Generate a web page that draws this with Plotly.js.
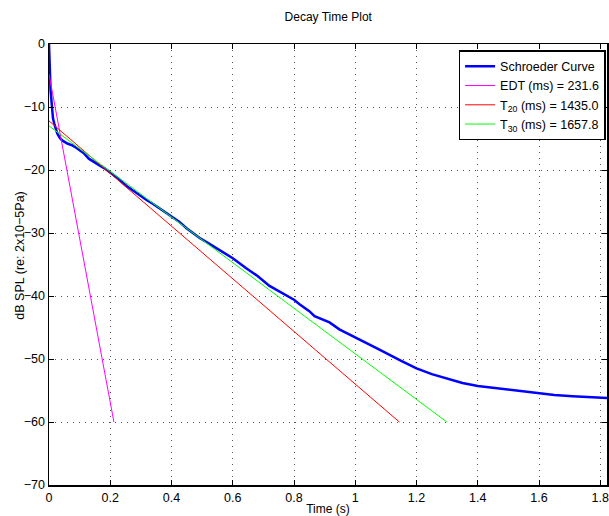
<!DOCTYPE html>
<html>
<head>
<meta charset="utf-8">
<script src="https://cdn.plot.ly/plotly-3.0.1.min.js"></script>
<style>html,body{margin:0;padding:0;background:#fff;}#chart{width:609px;height:516px;}</style>
</head>
<body>
<div id="chart"></div>
<script>
// Schroeder curve (s, dB)
const schroederX = [0, 0.001, 0.002, 0.003, 0.005, 0.008, 0.01, 0.013, 0.017, 0.022, 0.027, 0.035, 0.043, 0.06, 0.076, 0.09, 0.103, 0.115, 0.13, 0.145, 0.166, 0.18, 0.2, 0.225, 0.252, 0.275, 0.296, 0.32, 0.34, 0.37, 0.4, 0.425, 0.448, 0.47, 0.492, 0.52, 0.546, 0.575, 0.6, 0.644, 0.68, 0.72, 0.764, 0.8, 0.818, 0.85, 0.867, 0.916, 0.948, 1.003, 1.045, 1.079, 1.15, 1.2, 1.25, 1.31, 1.35, 1.4, 1.45, 1.503, 1.55, 1.6, 1.65, 1.71, 1.77, 1.822];
const schroederY = [0, -2, -4.3, -5, -7.2, -9, -10.5, -11.8, -12.6, -13.5, -14.2, -14.9, -15.3, -15.8, -16.1, -16.5, -16.9, -17.4, -18.2, -18.7, -19.3, -19.7, -20.4, -21.3, -22.5, -23.3, -24.1, -24.8, -25.4, -26.4, -27.3, -28.2, -29.2, -30.0, -30.8, -31.6, -32.4, -33.2, -34.0, -35.6, -36.8, -38.4, -39.6, -40.6, -41.3, -42.4, -43.2, -44.2, -45.3, -46.6, -47.6, -48.5, -50.3, -51.5, -52.4, -53.3, -53.8, -54.3, -54.6, -54.9, -55.2, -55.5, -55.7, -55.9, -56.1, -56.2];
// Regression lines
const edtX = [0, 0.212];
const edtY = [-4.8, -60];
const t20X = [0, 1.144];
const t20Y = [-12.2, -60];
const t30X = [0, 1.299];
const t30Y = [-13.0, -60];
const seriesNames = ["Schroeder Curve", "EDT (ms) = 231.6", "T<sub>20</sub> (ms) = 1435.0", "T<sub>30</sub> (ms) = 1657.8"];
const yTitle = "dB SPL (re: 2x10\u22125Pa)";

const font = "Liberation Sans, Arial, Helvetica, sans-serif";
const traces = [
  {x: schroederX, y: schroederY, mode: "lines", name: seriesNames[0], line: {color: "#0000ff", width: 2.5}},
  {x: edtX, y: edtY, mode: "lines", name: seriesNames[1], line: {color: "#ff00ff", width: 1}},
  {x: t20X, y: t20Y, mode: "lines", name: seriesNames[2], line: {color: "#ff0000", width: 1}},
  {x: t30X, y: t30Y, mode: "lines", name: seriesNames[3], line: {color: "#00ff00", width: 1}}
];

const axisCommon = {
  showline: true, linecolor: "#000", linewidth: 1.5, mirror: "ticks",
  ticks: "inside", ticklen: 5, tickcolor: "#000", tickwidth: 1,
  showgrid: true, gridcolor: "#555", griddash: "1px,5px", gridwidth: 1,
  zeroline: false, tickfont: {family: font, size: 12.5, color: "#000"}
};

const layout = {
  width: 609, height: 516,
  margin: {l: 49, r: 2, t: 44, b: 31},
  paper_bgcolor: "#fff", plot_bgcolor: "#fff",
  font: {family: font, color: "#000"},
  title: {text: "Decay Time Plot", font: {family: font, size: 12, color: "#000"}, x: 0.539, xanchor: "center", y: 0.967, yanchor: "middle"},
  xaxis: Object.assign({}, axisCommon, {range: [0, 1.822], dtick: 0.2, tick0: 0, ticklabeloverflow: "allow",
    title: {text: "Time (s)", font: {family: font, size: 12}, standoff: 2}}),
  yaxis: Object.assign({}, axisCommon, {range: [-70, 0], dtick: 10, tick0: 0}),
  annotations: [{text: yTitle, xref: "paper", yref: "paper", x: -0.052, y: 0.52, xanchor: "center", yanchor: "middle",
    textangle: -90, showarrow: false, font: {family: font, size: 12.5, color: "#000"}}],
  showlegend: true,
  legend: {x: 0.9975, xanchor: "right", y: 0.986, yanchor: "top", bgcolor: "#fff", bordercolor: "#000", borderwidth: 1.5,
    font: {family: font, size: 12.5, color: "#000"}, tracegroupgap: 0, itemwidth: 30}
};

Plotly.newPlot("chart", traces, layout, {displayModeBar: false, staticPlot: true});
</script>
</body>
</html>
